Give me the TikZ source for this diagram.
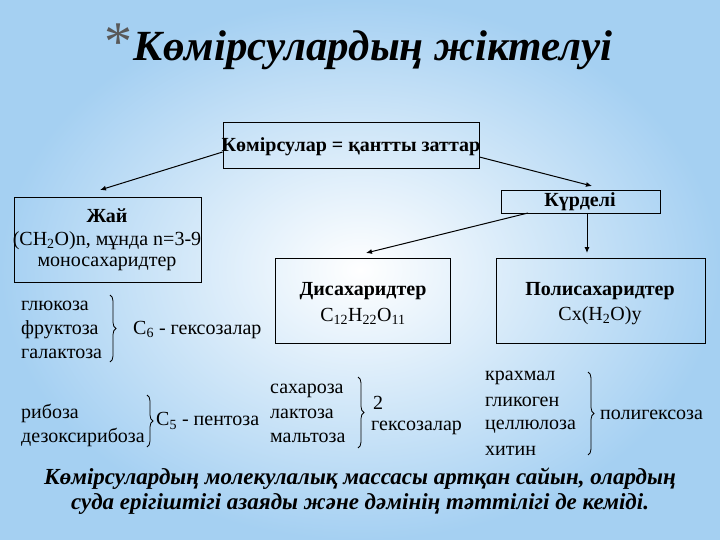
\documentclass[tikz,border=0pt]{standalone}
\usepackage{fontspec}
\setmainfont{Liberation Serif}
\usetikzlibrary{decorations.pathreplacing,arrows.meta}
\definecolor{bgblue}{RGB}{165,208,242}
\tikzset{
  box/.style={draw=black,line width=0.8pt,inner sep=0pt},
  txt/.style={font=\fontsize{20}{22}\selectfont,inner sep=0pt},
  btxt/.style={font=\fontsize{20}{22}\selectfont\bfseries,inner sep=0pt},
  ltxt/.style={txt,anchor=west},
  arr/.style={-{Latex[length=6pt,width=5pt]},line width=1pt},
  br/.style={decorate,decoration={brace,amplitude=6pt},line width=0.8pt}
}
\begin{document}
\begin{tikzpicture}[x=1pt,y=-1pt]
\useasboundingbox (0,0) rectangle (720,540);
\shade[inner color=white,outer color=bgblue] (0,0) rectangle (720,540);
% title
\node[font=\fontsize{43}{46}\selectfont\itshape\bfseries,inner sep=0pt] (title) at (373,50) {Көмірсулардың жіктелуі};
\node[font=\fontsize{56}{56}\selectfont,text=black!65,inner sep=0pt] (star) at (118,42) {*};
% boxes
\node[box,minimum width=256pt,minimum height=46pt] (top) at (351,145) {};
\node[btxt] (toptxt) at (351,147) {Көмірсулар = қантты заттар};
\node[box,minimum width=187pt,minimum height=85pt] (zhai) at (107.5,239.5) {};
\node[btxt] (z1) at (107,216) {Жай};
\node[txt] (z2) at (107,241) {(CH\textsubscript{2}O)n, мұнда n=3-9};
\node[txt] (z3) at (107,264) {моносахаридтер};
\node[box,minimum width=159pt,minimum height=23pt] (kur) at (580.5,201.5) {};
\node[btxt] (kurt) at (580,202) {Күрделі};
\node[box,minimum width=175pt,minimum height=85pt] (dis) at (362.5,300.5) {};
\node[btxt] (d1) at (363,291) {Дисахаридтер};
\node[txt] (d2) at (363,316) {C\textsubscript{12}H\textsubscript{22}O\textsubscript{11}};
\node[box,minimum width=209pt,minimum height=85pt] (pol) at (600.5,300.5) {};
\node[btxt] (p1) at (600,291) {Полисахаридтер};
\node[txt] (p2) at (600,316) {Cx(H\textsubscript{2}O)y};
% arrows
\coordinate (a1) at (100,190);
\coordinate (a2) at (592,186);
\coordinate (a3) at (366,253);
\coordinate (a4) at (587,253);
\draw[arr] (top.west |- 0,152) -- (a1);
\draw[arr] (top.east |- 0,157) -- (a2);
\draw[arr] (528,213) -- (a3);
\draw[arr] (587,213) -- (a4);
% mono
\node[ltxt] (g1) at (21,306) {глюкоза};
\node[ltxt] (g2) at (21,330) {фруктоза};
\node[ltxt] (g3) at (21,354) {галактоза};
\draw[br] (110,295) -- (110,362);
\node[ltxt] (c6) at (133,330) {C\textsubscript{6} - гексозалар};
\node[ltxt] (r1) at (21,413) {рибоза};
\node[ltxt] (r2) at (21,437) {дезоксирибоза};
\draw[br] (147,395) -- (147,447);
\node[ltxt] (c5) at (156,421) {C\textsubscript{5} - пентоза};
% di
\node[ltxt] (s1) at (270,391) {сахароза};
\node[ltxt] (s2) at (270,414) {лактоза};
\node[ltxt] (s3) at (270,438) {мальтоза};
\draw[br] (358,377) -- (358,448);
\node[txt] (two) at (378,403) {2};
\node[ltxt] (gek) at (371,428) {гексозалар};
\node[ltxt] (k1) at (485,378) {крахмал};
\node[ltxt] (k2) at (485,402) {гликоген};
\node[ltxt] (k3) at (485,427) {целлюлоза};
\node[ltxt] (k4) at (485,451) {хитин};
\draw[br] (588,372) -- (588,455);
\node[ltxt] (pg) at (600,415) {полигексоза};
% bottom
\node[font=\fontsize{23}{25}\selectfont\itshape\bfseries,align=center,inner sep=0pt] (bot) at (360,491) {Көмірсулардың молекулалық массасы артқан сайын, олардың\\суда ерігіштігі азаяды және дәмінің тәттілігі де кеміді.};
\end{tikzpicture}
\end{document}
